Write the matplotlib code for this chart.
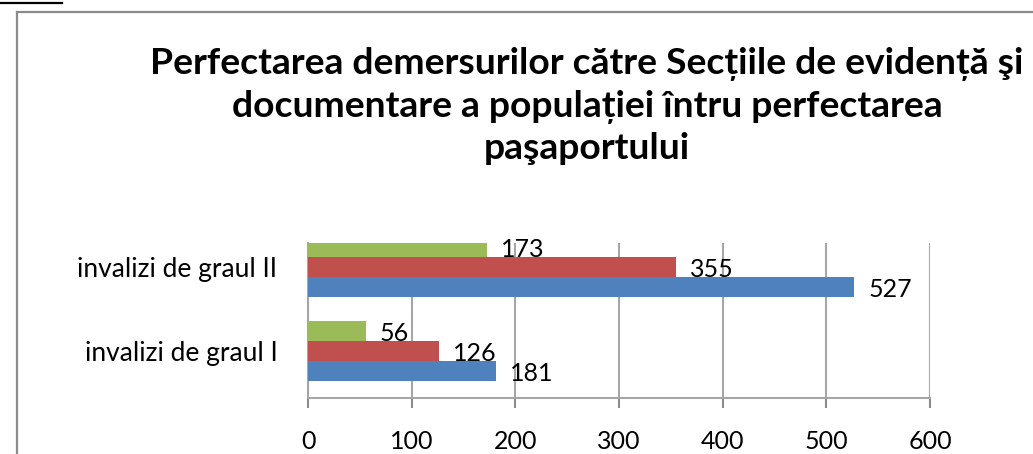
import matplotlib
matplotlib.use("Agg")
import matplotlib.pyplot as plt
import matplotlib.transforms as mtransforms
import numpy as np
from matplotlib.lines import Line2D

categories = ["invalizi de graul I", "invalizi de graul II"]
series_blue = [181, 527]
series_red = [126, 355]
series_green = [56, 173]
xticks = [0, 100, 200, 300, 400, 500, 600]
title = ("Perfectarea demersurilor către Secțiile de evidență şi\n"
         "documentare a populației întru perfectarea\n"
         "paşaportului")

plt.rcParams['font.family'] = ['Lato', 'DejaVu Sans']

W, H = 1033, 454
fig = plt.figure(figsize=(W / 100, H / 100), dpi=100)

# frame lines
fig.add_artist(Line2D([17 / W, 17 / W], [0, 1 - 12 / H], transform=fig.transFigure,
                      color="#8c8c8c", lw=1.6))
fig.add_artist(Line2D([17 / W, 1], [1 - 12 / H, 1 - 12 / H], transform=fig.transFigure,
                      color="#8c8c8c", lw=1.6))
fig.add_artist(Line2D([0, 62 / W], [1 - 3 / H, 1 - 3 / H], transform=fig.transFigure,
                      color="black", lw=1.6))

fig.text(587 / W, 1 - 106 / H, title, ha="center", va="center", fontsize=26.8,
         fontweight="bold", linespacing=1.3)

ax = fig.add_axes([308 / W, 1 - 398 / H, (930 - 308) / W, (398 - 243) / H])
ax.set_xlim(0, 600)
ax.set_ylim(-0.56, 1.286)

y = np.arange(len(categories))
h = 0.238
colors = ["#4F81BD", "#C0504D", "#9BBB59"]
for off, vals, c in zip([-h, 0, h], [series_blue, series_red, series_green], colors):
    bars = ax.barh(y + off, vals, height=h, color=c, edgecolor="none", zorder=3)
    for b, v in zip(bars, vals):
        ax.annotate(str(v), (v, b.get_y() + b.get_height() / 2), xytext=(10, -2),
                    textcoords="offset points", ha="left", va="center", fontsize=18,
                    color="black", zorder=5)

ax.set_xticks(xticks)
ax.set_xticklabels([str(t) for t in xticks], fontsize=18)
ax.set_yticks(y)
ax.set_yticklabels(categories, fontsize=19)
shift = mtransforms.ScaledTranslation(0, -4 / 100, fig.dpi_scale_trans)
for lbl in ax.get_yticklabels():
    lbl.set_transform(lbl.get_transform() + shift)
ax.tick_params(axis="y", length=0, pad=22)
ax.tick_params(axis="x", length=7, width=1.5, color="#8c8c8c", pad=16)
ax.grid(axis="x", color="#a6a6a6", lw=1.5, zorder=0)
ax.set_axisbelow(True)
for s in ["top", "right"]:
    ax.spines[s].set_visible(False)
for s in ["left", "bottom"]:
    ax.spines[s].set_color("#a6a6a6")
    ax.spines[s].set_linewidth(1.5)

fig.savefig("out.png", dpi=100)
